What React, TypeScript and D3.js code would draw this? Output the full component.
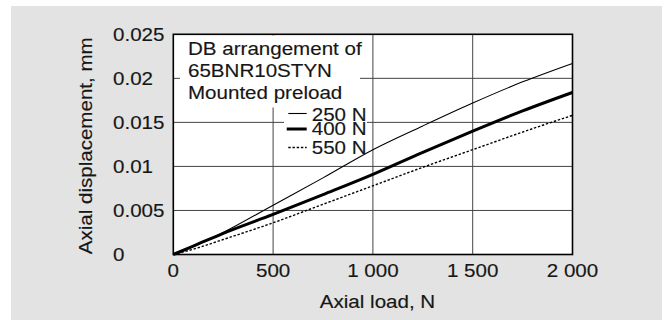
import React from "react";
import * as d3 from "d3";

const loads = [0, 100, 250, 500, 750, 1000, 1250, 1500, 1750, 2000];
const preload250 = [0, 0.0009, 0.0025, 0.0056, 0.0087, 0.0119, 0.0146, 0.0172, 0.0196, 0.0217];
const preload400 = [0, 0.00095, 0.0024, 0.00455, 0.0068, 0.0091, 0.0116, 0.0140, 0.0163, 0.0184];
const preload550 = [0, 0.0006, 0.0017, 0.0036, 0.0057, 0.0078, 0.0099, 0.0119, 0.0139, 0.0158];

const xTicks = [0, 500, 1000, 1500, 2000];
const xTickLabels = ["0", "500", "1 000", "1 500", "2 000"];
const yTicks = [0, 0.005, 0.01, 0.015, 0.02, 0.025];
const yTickLabels = ["0", "0.005", "0.01", "0.015", "0.02", "0.025"];

const legendTitle = ["DB arrangement of", "65BNR10STYN", "Mounted preload"];
const seriesNames = ["250 N", "400 N", "550 N"];

const FONT = "'Liberation Sans', Arial, Helvetica, sans-serif";
const FS = 18.7;
const SX = 1.1;

function T({ x, y, anchor = "start", rotate = 0, children }: any) {
  return (
    <text
      transform={`translate(${x},${y}) rotate(${rotate}) scale(${SX},1)`}
      textAnchor={anchor}
      fontFamily={FONT}
      fontSize={FS}
      fill="#161616"
      stroke="#161616"
      strokeWidth={0.15}
    >
      {children}
    </text>
  );
}

export default function App() {
  const x = d3.scaleLinear().domain([0, 2000]).range([173.3, 572.5]);
  const y = d3.scaleLinear().domain([0, 0.025]).range([254.5, 34.3]);
  const line = d3
    .line<number>()
    .x((_, i) => x(loads[i]))
    .y((d) => y(d))
    .curve(d3.curveMonotoneX);

  const series = [
    { data: preload250, w: 1.1, dash: undefined },
    { data: preload400, w: 3, dash: undefined },
    { data: preload550, w: 1.4, dash: "2.4,1.8" },
  ];
  const legendY = [113.5, 129, 147.5];
  const legendBase = [121, 134.7, 154];

  return (
    <svg
      width={667}
      height={320}
      style={{ position: "absolute", left: 0, top: 0 }}
    >
      <rect x={0} y={0} width={667} height={320} fill="#fff" />
      <rect x={11} y={6} width={651} height={314} fill="#e2e3e2" />
      <rect
        x={x(0)}
        y={y(0.025)}
        width={x(2000) - x(0)}
        height={y(0) - y(0.025)}
        fill="#fff"
      />
      {/* grid */}
      {xTicks.slice(1, -1).map((t) => (
        <line key={"gx" + t} x1={x(t)} x2={x(t)} y1={y(0.025)} y2={y(0)} stroke="#444" strokeWidth={1} />
      ))}
      {yTicks.slice(1, -1).map((t) => (
        <line key={"gy" + t} x1={x(0)} x2={x(2000)} y1={y(t)} y2={y(t)} stroke="#444" strokeWidth={1} />
      ))}
      {/* legend background boxes hiding the grid */}
      <rect x={180} y={35.5} width={180} height={72} fill="#fff" />
      <rect x={284} y={104} width={83} height={54} fill="#fff" />
      {/* curves */}
      {series.map((s, i) => (
        <path
          key={"s" + i}
          d={line(s.data) || ""}
          fill="none"
          stroke="#000"
          strokeWidth={s.w}
          strokeDasharray={s.dash}
        />
      ))}
      {/* frame */}
      <rect
        x={x(0)}
        y={y(0.025)}
        width={x(2000) - x(0)}
        height={y(0) - y(0.025)}
        fill="none"
        stroke="#000"
        strokeWidth={1.6}
      />
      {/* y tick labels */}
      {yTicks.map((t, i) => (
        <T key={"yl" + t} x={113} y={y(t) + 6.6}>
          {yTickLabels[i]}
        </T>
      ))}
      {/* x tick labels */}
      {xTicks.map((t, i) => (
        <T key={"xl" + t} x={x(t)} y={277.3} anchor="middle">
          {xTickLabels[i]}
        </T>
      ))}
      <T x={377.5} y={307.5} anchor="middle">
        Axial load, N
      </T>
      <T x={91.7} y={145.8} anchor="middle" rotate={-90}>
        Axial displacement, mm
      </T>
      {/* legend */}
      {legendTitle.map((s, i) => (
        <T key={"lt" + i} x={188} y={55 + i * 22}>
          {s}
        </T>
      ))}
      {series.map((s, i) => (
        <g key={"lg" + i}>
          <line
            x1={i === 1 ? 286.7 : 288.3}
            x2={306.7}
            y1={legendY[i]}
            y2={legendY[i]}
            stroke="#000"
            strokeWidth={s.w}
            strokeDasharray={s.dash}
          />
          <T x={311.7} y={legendBase[i]}>
            {seriesNames[i]}
          </T>
        </g>
      ))}
    </svg>
  );
}
